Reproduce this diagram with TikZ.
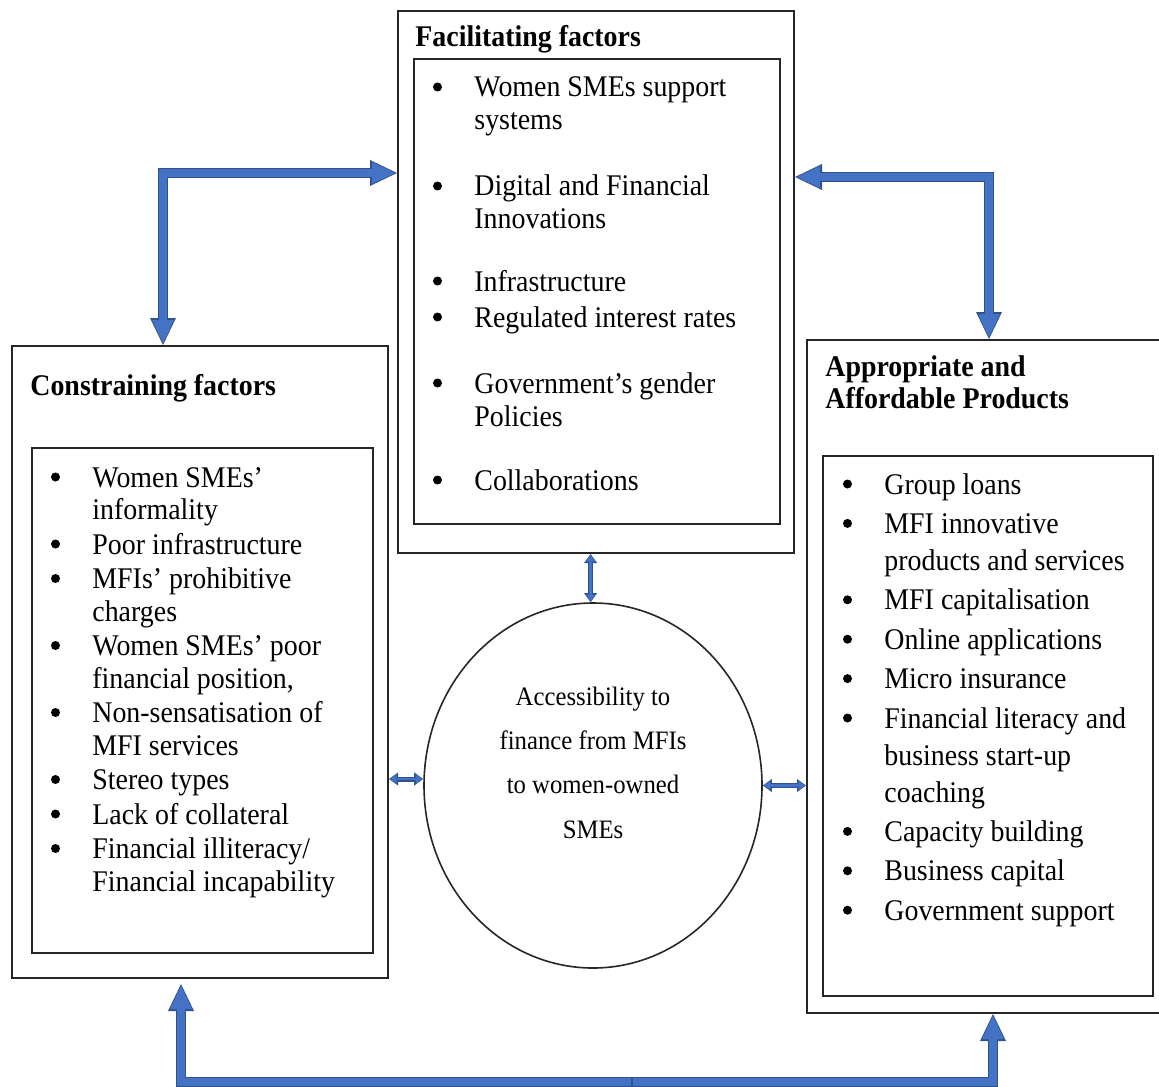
\documentclass[tikz,border=0pt]{standalone}
\usepackage{fontspec}
\setmainfont{Liberation Serif}[FakeStretch=0.93]
\usetikzlibrary{arrows.meta, shapes.geometric, positioning}
\definecolor{arrowblue}{HTML}{4472C4}
\definecolor{arrowdark}{HTML}{2F528F}
\newcommand{\bul}{\makebox[21pt][l]{\hspace{0.3pt}\tikz[baseline=0pt]\fill (0,5pt) circle (2.25pt);}}
\tikzset{
  outerbox/.style={draw=black!85, line width=1pt, inner sep=0pt, anchor=north west},
  boxtitle/.style={font=\fontsize{15}{16}\selectfont\bfseries, anchor=base west, inner sep=0pt},
  itemlist/.style={anchor=base west, inner sep=0pt},
  BigO/.tip={Triangle[width=13pt,length=13.5pt,line width=0pt]},
  BigI/.tip={Triangle[width=11pt,length=11.6pt,line width=0pt]},
  SmO/.tip={Triangle[width=6.5pt,length=4.5pt,line width=0pt]},
  SmI/.tip={Triangle[width=4.7pt,length=3.3pt,line width=0pt]},
  blockarrow/.style={draw=arrowblue, line width=3.8pt, line join=miter, shorten >=0.9pt},
  blockedge/.style={draw=arrowdark, line width=5.2pt, line join=miter, shorten <=0pt, shorten >=0pt},
  smallarrow/.style={draw=arrowblue, line width=1.2pt, shorten <=0.5pt, shorten >=0.5pt},
  smalledge/.style={draw=arrowdark, line width=2.5pt, shorten <=0pt, shorten >=0pt}
}

\begin{document}
\begin{tikzpicture}[x=0.5pt, y=-0.5pt]
  \useasboundingbox (0,0) rectangle (1159,1086);

  % Boxes
  \node[outerbox, minimum width=198pt, minimum height=271pt] (fac) at (397,10) {};
  \node[outerbox, minimum width=183pt, minimum height=232.5pt] (facin) at (413,58) {};
  \node[outerbox, minimum width=188pt, minimum height=316pt] (con) at (11,345) {};
  \node[outerbox, minimum width=170.5pt, minimum height=252.5pt] (conin) at (31,447) {};
  \node[outerbox, minimum width=182pt, minimum height=336.5pt] (app) at (806,339) {};
  \node[outerbox, minimum width=165pt, minimum height=270pt] (appin) at (822,455) {};
  \node[draw=black!85, line width=0.8pt, ellipse, minimum width=169pt, minimum height=182.5pt, inner sep=0pt] (acc) at (593,785.5) {};

  % Titles
  \node[boxtitle] (factitle) at (415,47) {Facilitating factors};
  \node[boxtitle] (contitle) at (30,395) {Constraining factors};
  \node[boxtitle] (apptitle) at (825,376) {\begin{tabular}[t]{@{}l@{}}Appropriate and\\Affordable Products\end{tabular}};

  % Lists
  \node[itemlist, font=\fontsize{15}{16.5}\selectfont] (faclist) at (432,97) {\begin{tabular}[t]{@{}l@{}l@{}}
    \bul & Women SMEs support\\
         & systems\\[16.5pt]
    \bul & Digital and Financial\\
         & Innovations\\[14.5pt]
    \bul & Infrastructure\\[1.5pt]
    \bul & Regulated interest rates\\[16.5pt]
    \bul & Government’s gender\\
         & Policies\\[15.5pt]
    \bul & Collaborations
  \end{tabular}};
  \node[itemlist, font=\fontsize{15}{16.25}\selectfont] (conlist) at (50,487) {\begin{tabular}[t]{@{}l@{}l@{}}
    \bul & Women SMEs’\\
         & informality\\[1pt]
    \bul & Poor infrastructure\\[1pt]
    \bul & MFIs’ prohibitive\\
         & charges\\[1pt]
    \bul & Women SMEs’ poor\\
         & financial position,\\[1pt]
    \bul & Non-sensatisation of\\
         & MFI services\\[1pt]
    \bul & Stereo types\\[1pt]
    \bul & Lack of collateral\\[1pt]
    \bul & Financial illiteracy/\\
         & Financial incapability
  \end{tabular}};
  \node[itemlist, font=\fontsize{15}{18.5}\selectfont] (applist) at (842,494) {\begin{tabular}[t]{@{}l@{}l@{}}
    \bul & Group loans\\[1.2pt]
    \bul & MFI innovative\\
         & products and services\\[1.2pt]
    \bul & MFI capitalisation\\[1.2pt]
    \bul & Online applications\\[1.2pt]
    \bul & Micro insurance\\[1.2pt]
    \bul & Financial literacy and\\
         & business start-up\\
         & coaching\\[1.2pt]
    \bul & Capacity building\\[1.2pt]
    \bul & Business capital\\[1.2pt]
    \bul & Government support
  \end{tabular}};
  \node[anchor=base, inner sep=0pt, font=\fontsize{13.3}{22.2}\selectfont] (acctext) at ([yshift=40.25pt]acc.center) {\begin{tabular}[t]{@{}c@{}}Accessibility to\\finance from MFIs\\to women-owned\\SMEs\end{tabular}};

  % Arrows
  \coordinate (cl) at ([yshift=-58.5pt]con.east);
  \coordinate (ct) at ([xshift=-1.2pt]acc.north);
  \coordinate (mid) at (631,1082);
  \draw[blockarrow, arrows={BigI-BigI}, shorten <=0.9pt, preaction={blockedge, arrows={BigO-BigO}}] ([yshift=54.5pt]fac.west) -| ([xshift=-18.5pt]con.north);
  \draw[blockarrow, arrows={BigI-BigI}, shorten <=0.9pt, preaction={blockedge, arrows={BigO-BigO}}] ([yshift=52.5pt]fac.east) -| (app.north);
  \draw[blockarrow, arrows={-BigI}, preaction={blockedge, arrows={-BigO}}] (mid) -| ([xshift=-9.5pt,yshift=-2.5pt]con.south);
  \draw[blockarrow, arrows={-BigI}, shorten <=1pt, preaction={blockedge, arrows={-BigO}}] (mid) -| ([xshift=2pt]app.south);
  \draw[smallarrow, arrows={SmI-SmI}, preaction={smalledge, arrows={SmO-SmO}}] (ct |- fac.south) -- (ct);
  \draw[smallarrow, arrows={SmI-SmI}, preaction={smalledge, arrows={SmO-SmO}}] (cl) -- (cl -| acc.west);
  \draw[smallarrow, arrows={SmI-SmI}, preaction={smalledge, arrows={SmO-SmO}}] (acc.east) -- (acc.east -| app.west);
\end{tikzpicture}
\end{document}
